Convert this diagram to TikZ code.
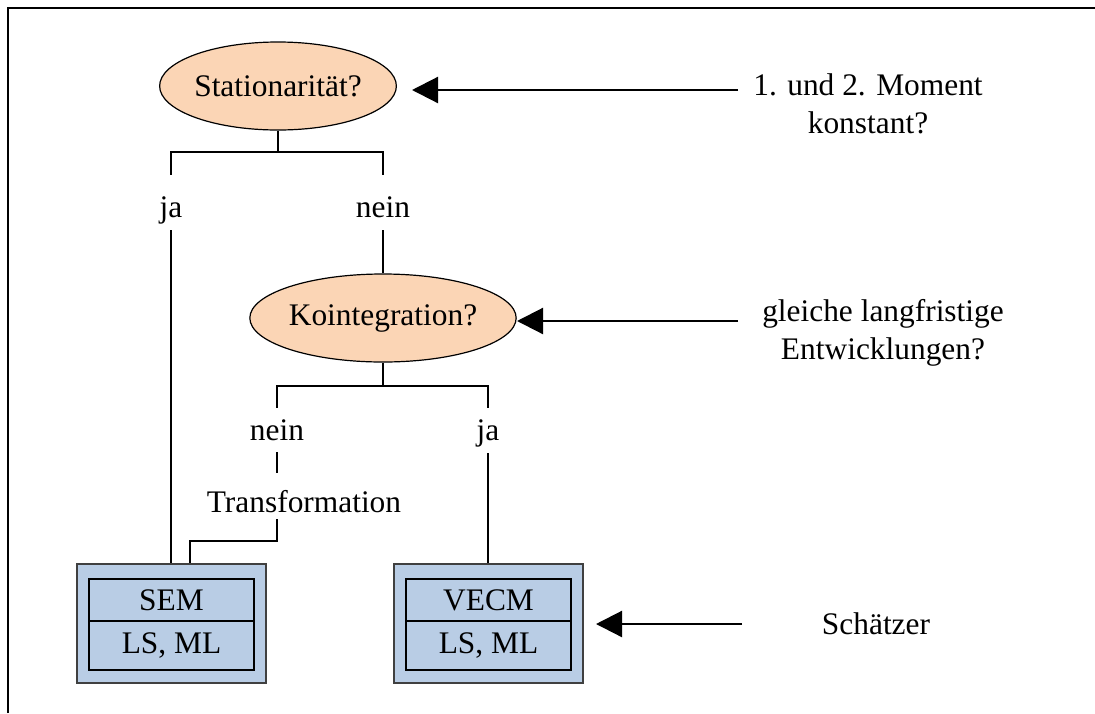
\documentclass[tikz,border=0pt]{standalone}
\usepackage{fontspec}
\setmainfont{Liberation Serif}
\usetikzlibrary{shapes.geometric,arrows.meta}
\definecolor{peach}{HTML}{FBD5B5}
\definecolor{paleblue}{HTML}{B9CDE5}
\begin{document}
\begin{tikzpicture}[x=1pt,y=-1pt,
  every node/.style={font=\fontsize{31.4}{38}\selectfont, inner sep=0pt},
  question/.style={ellipse, draw, line width=1.2pt, fill=peach,
    minimum width=233pt, minimum height=88pt},
  branch/.style={anchor=base},
  link/.style={line width=1.4pt},
  pointer/.style={line width=2.2pt, -{Triangle[length=26pt,width=26pt]}},
  outerbox/.style={draw=black!75, line width=1.4pt, fill=paleblue,
    minimum width=189pt, minimum height=119pt},
  cell/.style={draw, line width=1.8pt, minimum width=165pt}
]
\useasboundingbox (0,0) rectangle (1095,713);

% frame
\draw[line width=2.4pt] (8,713) -- (8,8) -- (1095,8);

% decision nodes
\node[question] (st) at (278,86) {Stationarität?};
\node[question] (ko) at (383,318) {Kointegration?};

% branch labels
\node[branch, text height=42pt, text depth=13pt] (ja1)   at (171,217) {ja};
\node[branch, text height=42pt, text depth=13pt] (nein1) at (383,217) {nein};
\node[branch, text height=32pt, text depth=12pt] (nein2) at (277,440) {nein};
\node[branch, text height=32pt, text depth=13pt] (ja2)   at (488,440) {ja};
\node[branch, text height=39pt, text depth=7pt]  (tr)    at (304,512) {Transformation};

% model boxes
\node[outerbox] (sem) at (171.5,623.5) {};
\node[cell, minimum height=42pt] (semtop) at (171.5,600) {SEM};
\node[cell, minimum height=49pt] (sembot) at (171.5,645.5) {LS, ML};
\node[outerbox] (vecm) at (488.5,623.5) {};
\node[cell, minimum height=42pt] (vecmtop) at (488.5,600) {VECM};
\node[cell, minimum height=49pt] (vecmbot) at (488.5,645.5) {LS, ML};

% side notes
\node[align=center] (n1) at (868,104) {1. und 2. Moment\\konstant?};
\node[align=center] (n2) at (883,333) {gleiche langfristige\\Entwicklungen?};
\node (n3) at (876,624) {Schätzer};

% tree connectors
\coordinate (f1) at (278,152);
\coordinate (f2) at (383,386);
\coordinate (tin) at (190,541);
\draw[link] (st.south) -- (f1);
\draw[link] (ja1.north) |- (f1) -| (nein1.north);
\draw[link] (ja1.south) -- (ja1.south |- sem.north);
\draw[link] (nein1.south) -- (ko.north);
\draw[link] (ko.south) -- (f2);
\draw[link] (nein2.north) |- (f2) -| (ja2.north);
\draw[link] (nein2.south) -- (nein2.south |- tr.north);
\draw[link] (nein2 |- tr.south) |- (tin) -- (tin |- sem.north);
\draw[link] (ja2.south) -- (ja2.south |- vecm.north);

% pointers
\coordinate (a1) at (738,90);
\coordinate (a1t) at (412,90);
\coordinate (a2) at (738,321);
\coordinate (a2t) at (517,321);
\coordinate (a3) at (742,624);
\coordinate (a3t) at (596,624);
\draw[pointer] (a1) -- (a1t);
\draw[pointer] (a2) -- (a2t);
\draw[pointer] (a3) -- (a3t);
\end{tikzpicture}
\end{document}
